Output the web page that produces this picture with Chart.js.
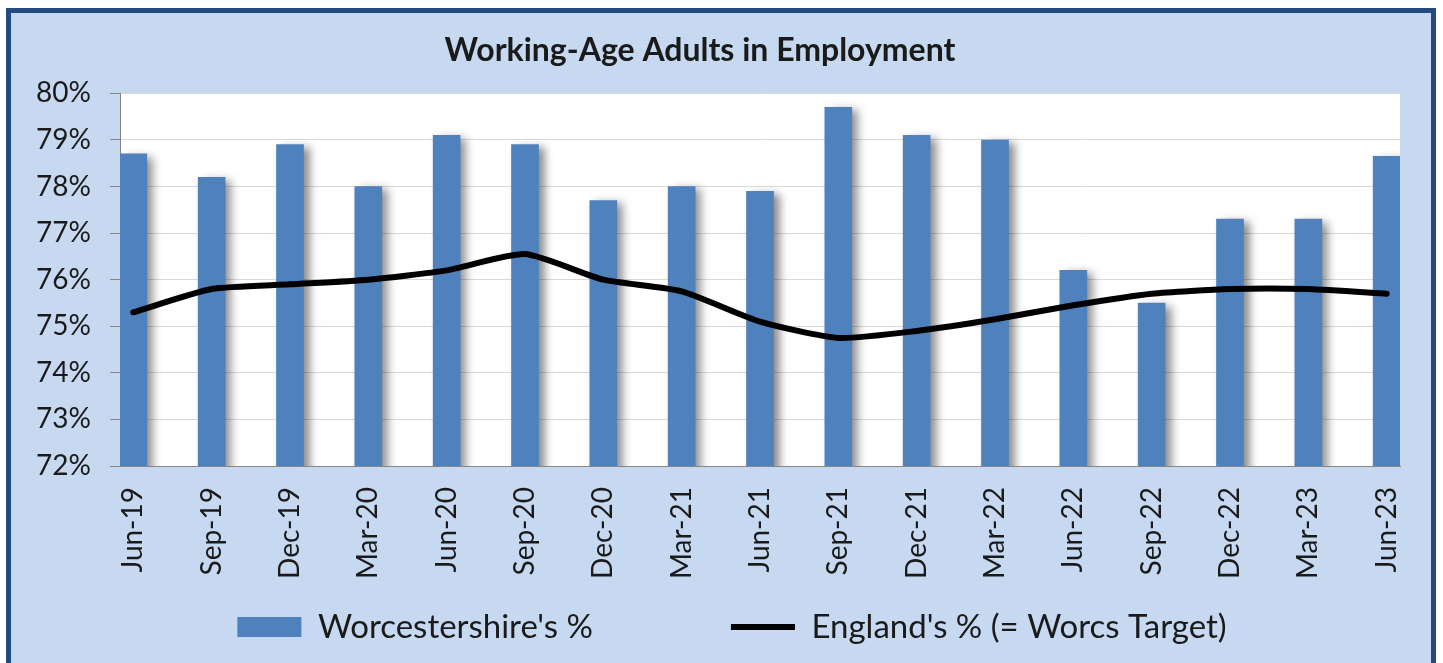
<!DOCTYPE html>
<html>
<head>
<meta charset="utf-8">
<script src="https://cdn.jsdelivr.net/npm/chart.js@4"></script>
<style>
  html, body { margin: 0; padding: 0; background: #ffffff; overflow: hidden; }
  #frame { position: absolute; left: 6px; top: 8px; width: 1420px; height: 670px; border: 5px solid #244a7f; background: #c6d9f1; }
  #wrap { position: absolute; left: 0; top: 0; width: 1443px; height: 663px; }
</style>
</head>
<body>
<div id="frame"></div>
<div id="wrap"><canvas id="c"></canvas></div>
<script>
// ---- data ----
const categories = ['Jun-19','Sep-19','Dec-19','Mar-20','Jun-20','Sep-20','Dec-20','Mar-21','Jun-21','Sep-21','Dec-21','Mar-22','Jun-22','Sep-22','Dec-22','Mar-23','Jun-23'];
const worcsValues = [78.7, 78.2, 78.9, 78.0, 79.1, 78.9, 77.7, 78.0, 77.9, 79.7, 79.1, 79.0, 76.2, 75.5, 77.3, 77.3, 78.65];
const englandValues = [75.3, 75.8, 75.9, 76.0, 76.2, 76.55, 76.0, 75.75, 75.1, 74.75, 74.9, 75.15, 75.45, 75.7, 75.8, 75.8, 75.7];
const yTickValues = [72, 73, 74, 75, 76, 77, 78, 79, 80];
const seriesNames = ["Worcestershire's %", "England's % (= Worcs Target)"];
const chartTitle = 'Working-Age Adults in Employment';

const FONT = 'Lato';
const TEXT = '#1a1a1a';

const plotBg = {
  id: 'plotBg',
  beforeDraw(chart) {
    const {ctx, chartArea: a} = chart;
    ctx.save();
    ctx.fillStyle = '#ffffff';
    ctx.fillRect(a.left, a.top, a.right - a.left, a.bottom - a.top);
    ctx.restore();
  }
};
const barShadow = {
  id: 'barShadow',
  beforeDatasetDraw(chart, args) {
    if (args.index !== 0) return;
    const ctx = chart.ctx;
    ctx.save();
    ctx.shadowColor = 'rgba(0,0,0,0.45)';
    ctx.shadowBlur = 9;
    ctx.shadowOffsetX = 6;
    ctx.shadowOffsetY = 3;
  },
  afterDatasetDraw(chart, args) {
    if (args.index !== 0) return;
    chart.ctx.restore();
  }
};
// place the legend row: centre of items at y=627, row starting near x=240
const legendPlace = {
  id: 'legendPlace',
  afterLayout(chart) {
    const lg = chart.legend;
    if (!lg) return;
    const pad = lg.options.labels.padding;
    const fs = lg.options.labels.font.size;
    lg.top = 627 - fs / 2 - pad;
    lg.left += 32;
    lg.right += 32;
  }
};

new Chart(document.getElementById('c'), {
  data: {
    datasets: [
      {
        type: 'bar',
        label: seriesNames[0],
        data: worcsValues.map((v, i) => ({x: i, y: v})),
        backgroundColor: '#4f81bd',
        borderWidth: 0,
        barThickness: 27,
        pointStyle: 'rect',
        order: 2
      },
      {
        type: 'line',
        label: seriesNames[1],
        data: englandValues.map((v, i) => ({x: i, y: v})),
        borderColor: '#000000',
        backgroundColor: '#000000',
        borderWidth: 6,
        borderCapStyle: 'round',
        borderJoinStyle: 'round',
        tension: 0.2,
        pointRadius: 0,
        pointStyle: 'line',
        order: 1
      }
    ]
  },
  options: {
    responsive: true,
    maintainAspectRatio: false,
    animation: false,
    layout: { padding: { left: 0, right: 43, top: 14, bottom: 11 } },
    plugins: {
      tooltip: { enabled: false },
      title: {
        display: true,
        text: chartTitle,
        color: TEXT,
        font: { family: FONT, size: 32, weight: 'bold' },
        padding: { top: 17, bottom: 24 }
      },
      legend: {
        position: 'bottom',
        maxHeight: 66,
        labels: {
          usePointStyle: true,
          pointStyleWidth: 64,
          boxHeight: 20,
          padding: 138,
          color: TEXT,
          font: { family: FONT, size: 33 },
          sort: (a, b) => a.datasetIndex - b.datasetIndex
        }
      }
    },
    scales: {
      x: {
        type: 'linear',
        offset: false,
        min: -0.17,
        max: 16.17,
        afterBuildTicks: s => { s.ticks = categories.map((c, i) => ({value: i})); },
        afterFit: s => { s.height = 120; },
        ticks: {
          autoSkip: false,
          minRotation: 90,
          maxRotation: 90,
          padding: 21,
          color: TEXT,
          font: { family: FONT, size: 28 },
          callback: v => categories[v] ?? ''
        },
        grid: { display: false, drawTicks: false, offset: false },
        border: { display: true, color: '#868686', width: 1 }
      },
      y: {
        min: yTickValues[0],
        max: yTickValues[yTickValues.length - 1],
        afterBuildTicks: s => { s.ticks = yTickValues.map(v => ({value: v})); },
        afterFit: s => { s.width = 120; },
        ticks: {
          padding: 19,
          color: TEXT,
          font: { family: FONT, size: 28 },
          callback: v => v + '%'
        },
        grid: { color: '#d9d9d9', tickColor: '#868686', tickLength: 10, drawTicks: true },
        border: { color: '#868686', width: 1 }
      }
    }
  },
  plugins: [plotBg, barShadow, legendPlace]
});
</script>
</body>
</html>
